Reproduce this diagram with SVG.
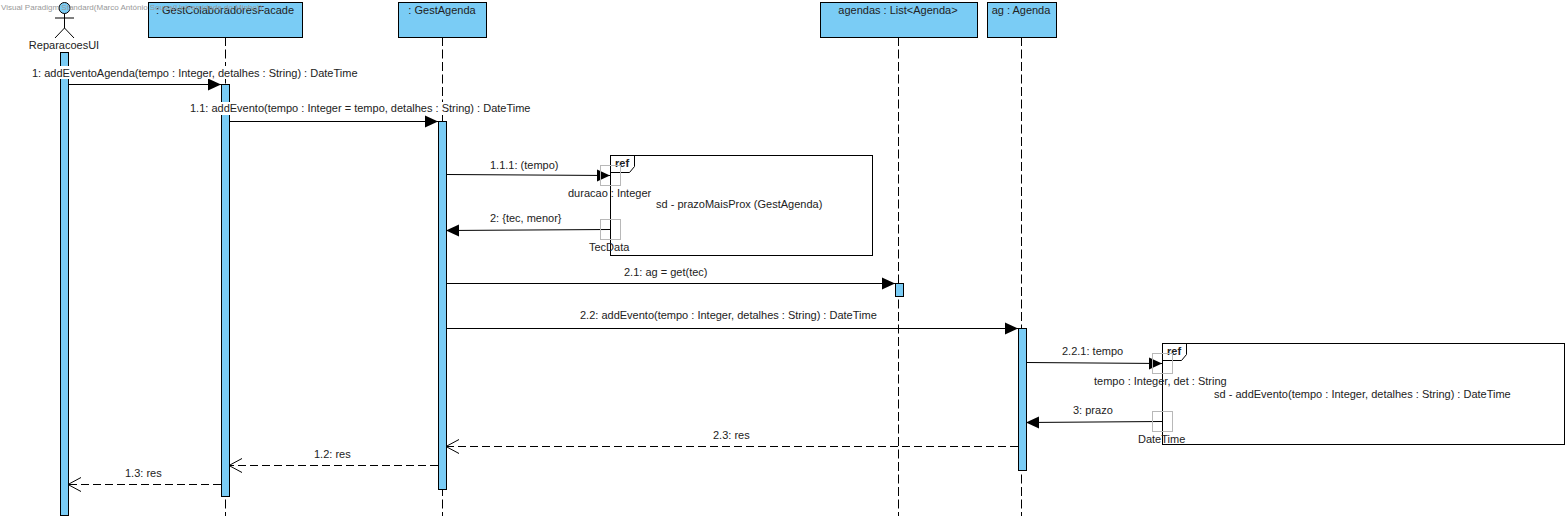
<svg xmlns="http://www.w3.org/2000/svg" width="1568" height="520" viewBox="0 0 1568 520">
<style>
text{font-family:"Liberation Sans",Arial,sans-serif;font-size:11px;fill:#222}
.box{fill:#7accf5;stroke:#000;stroke-width:1}
.life{stroke:#000;stroke-width:1;stroke-dasharray:9 3.500;fill:none}
.msg{stroke:#000;stroke-width:1;fill:none}
.ret{stroke:#000;stroke-width:1;stroke-dasharray:8 4;fill:none}
.ref{fill:#fff;stroke:#000;stroke-width:1}
.pin{fill:none;stroke:#b8b8b8;stroke-width:1}
.mask{fill:#fff;stroke:none}
.m{text-anchor:middle}
</style>
<defs>
<marker id="solid" markerUnits="userSpaceOnUse" markerWidth="14" markerHeight="14" refX="13" refY="7" orient="auto"><path d="M0 1L13 7L0 13Z" fill="#000"/></marker>
<marker id="open" markerUnits="userSpaceOnUse" markerWidth="14" markerHeight="16" refX="13" refY="7" orient="auto"><path d="M0 0L13 7L0 14" fill="none" stroke="#000"/></marker>
</defs>
<g id="lifelines">
<path class="life" d="M225.500 37V516M442.500 37V516M898.500 37V516M1021.500 37V516"/>
</g>
<g id="ref-prazoMaisProx">
<rect class="ref" x="610.500" y="155.500" width="262" height="100"/>
<path d="M610.500 172.500H629.500L634.500 166.500V155.500" fill="none" stroke="#000"/>
<text x="615" y="167" style="font-weight:bold">ref</text>
<text x="656" y="208">sd - prazoMaisProx (GestAgenda)</text>
</g>
<g id="ref-addEvento">
<rect class="ref" x="1162.500" y="343.500" width="402" height="101"/>
<path d="M1162.500 360.500H1181.500L1186.500 354.500V343.500" fill="none" stroke="#000"/>
<text x="1167" y="355" style="font-weight:bold">ref</text>
<text x="1214" y="398">sd - addEvento(tempo : Integer, detalhes : String) : DateTime</text>
</g>
<g id="ReparacoesUI">
<circle cx="64.500" cy="8" r="5.500" fill="#7accf5" stroke="#000"/>
<path d="M64.500 13.500V28M55 18H74M64.500 28L55 38M64.500 28L74 38" fill="none" stroke="#000"/>
<text class="m" x="64" y="49">ReparacoesUI</text>
<rect class="box" x="60.500" y="52.500" width="8" height="463"/>
</g>
<g id="GestColaboradoresFacade">
<rect class="box" x="148.500" y="2.500" width="154" height="35"/>
<text class="m" x="225" y="14">: GestColaboradoresFacade</text>
<rect class="box" x="221.500" y="84.500" width="8" height="412"/>
</g>
<g id="GestAgenda">
<rect class="box" x="398.500" y="2.500" width="88" height="35"/>
<text class="m" x="442" y="14">: GestAgenda</text>
<rect class="box" x="438.500" y="121.500" width="8" height="368"/>
</g>
<g id="agendas">
<rect class="box" x="820.500" y="2.500" width="157" height="35"/>
<text class="m" x="898" y="14">agendas : List&lt;Agenda&gt;</text>
<rect class="box" x="895.500" y="283.500" width="8" height="13"/>
</g>
<g id="ag">
<rect class="box" x="987.500" y="2.500" width="69" height="35"/>
<text class="m" x="1021" y="14">ag : Agenda</text>
<rect class="box" x="1018.500" y="328.500" width="8" height="142"/>
</g>
<g id="connectors">
<line class="msg" x1="68" y1="84.500" x2="221" y2="84.500" marker-end="url(#solid)"/>
<line class="msg" x1="229" y1="121.500" x2="438" y2="121.500" marker-end="url(#solid)"/>
<line class="msg" x1="446" y1="174.500" x2="610" y2="175.500" marker-end="url(#solid)"/>
<line class="msg" x1="610" y1="229.500" x2="446" y2="230.500" marker-end="url(#solid)"/>
<line class="msg" x1="446" y1="283.500" x2="895" y2="283.500" marker-end="url(#solid)"/>
<line class="msg" x1="446" y1="328.500" x2="1018" y2="328.500" marker-end="url(#solid)"/>
<line class="msg" x1="1026" y1="362.500" x2="1162" y2="363.500" marker-end="url(#solid)"/>
<line class="msg" x1="1162" y1="421.500" x2="1026" y2="422.500" marker-end="url(#solid)"/>
<line class="ret" x1="1018" y1="446.500" x2="446" y2="446.500" marker-end="url(#open)"/>
<line class="ret" x1="438" y1="465.500" x2="229" y2="465.500" marker-end="url(#open)"/>
<line class="ret" x1="221" y1="484.500" x2="68" y2="484.500" marker-end="url(#open)"/>
<rect class="pin" x="600.500" y="165.500" width="20" height="20"/>
<rect class="pin" x="600.500" y="219.500" width="20" height="20"/>
<rect class="pin" x="1152.500" y="353.500" width="20" height="20"/>
<rect class="pin" x="1152.500" y="411.500" width="20" height="20"/>
</g>
<g id="labels">
<rect class="mask" x="32" y="66" width="326" height="13"/>
<rect class="mask" x="190" y="102" width="341" height="13"/>
<text x="32" y="77">1: addEventoAgenda(tempo : Integer, detalhes : String) : DateTime</text>
<text x="190" y="112">1.1: addEvento(tempo : Integer = tempo, detalhes : String) : DateTime</text>
<text x="490" y="169">1.1.1: (tempo)</text>
<text x="568" y="197">duracao : Integer</text>
<text x="490" y="222">2: {tec, menor}</text>
<text x="589" y="251">TecData</text>
<text x="624" y="276">2.1: ag = get(tec)</text>
<text x="580" y="319">2.2: addEvento(tempo : Integer, detalhes : String) : DateTime</text>
<text x="1062" y="355">2.2.1: tempo</text>
<text x="1094" y="385">tempo : Integer, det : String</text>
<text x="1073" y="414">3: prazo</text>
<text x="1138" y="443">DateTime</text>
<text x="713" y="439">2.3: res</text>
<text x="314" y="458">1.2: res</text>
<text x="125" y="477">1.3: res</text>
</g>
<text x="1" y="10" style="font-size:8px;fill:#999">Visual Paradigm Standard(Marco António Sousa(Universidade do Minho))</text>
</svg>
